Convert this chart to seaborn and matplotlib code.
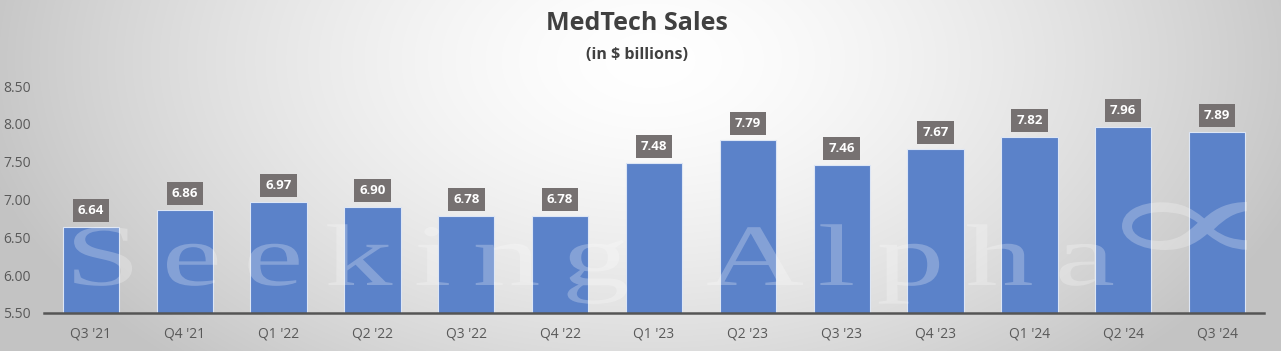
import numpy as np
import pandas as pd
import matplotlib
matplotlib.use('Agg')
import matplotlib.pyplot as plt
import seaborn as sns
from matplotlib.textpath import TextPath, text_to_path
from matplotlib.patches import PathPatch
from matplotlib.font_manager import FontProperties
from matplotlib.transforms import Affine2D

# Data
quarters = ["Q3 '21", "Q4 '21", "Q1 '22", "Q2 '22", "Q3 '22", "Q4 '22", "Q1 '23",
            "Q2 '23", "Q3 '23", "Q4 '23", "Q1 '24", "Q2 '24", "Q3 '24"]
sales = [6.64, 6.86, 6.97, 6.90, 6.78, 6.78, 7.48, 7.79, 7.46, 7.67, 7.82, 7.96, 7.89]
yticks = [5.50, 6.00, 6.50, 7.00, 7.50, 8.00, 8.50]

df = pd.DataFrame({'quarter': quarters, 'sales': sales})

sns.set_style('white')
plt.rcParams['font.family'] = ['Open Sans', 'DejaVu Sans']

W, H = 1281, 351
fig = plt.figure(figsize=(W / 100, H / 100), dpi=100)

# background gradient (light centre near top, grey edges)
bg = fig.add_axes([0, 0, 1, 1], zorder=0)
xx, yy = np.meshgrid(np.arange(W), np.arange(H))
d = np.sqrt(((xx - 650) / 690.0) ** 2 + ((yy - 60) / 420.0) ** 2)
g = 255 - 60 * np.clip(d, 0, 1) ** 1.5
img = np.dstack([g, g, g]).astype(np.uint8)
bg.imshow(img, extent=[0, W, H, 0], aspect='auto')
bg.set_xlim(0, W)
bg.set_ylim(H, 0)
bg.axis('off')

ax = fig.add_axes([44 / W, 1 - 313 / H, (1264 - 44) / W, (313 - 86) / H], zorder=1)
ax.patch.set_alpha(0)

sns.barplot(data=df, x='quarter', y='sales', color='#5B82C9', width=0.6,
            edgecolor='#dde6f5', linewidth=0.8, saturation=1, ax=ax)

ax.set_ylim(5.5, 8.5)
ax.set_xlim(-0.5, len(quarters) - 0.5)
ax.set_yticks(yticks)
ax.set_yticklabels(['{:.2f}'.format(v) for v in yticks])
ax.set_xlabel('')
ax.set_ylabel('')
ax.tick_params(axis='both', length=0, labelsize=10, labelcolor='#595959')
ax.tick_params(axis='x', pad=10)
ax.tick_params(axis='y', pad=29.5)
for lab in ax.get_yticklabels():
    lab.set_horizontalalignment('left')
for s in ['top', 'right', 'left']:
    ax.spines[s].set_visible(False)
ax.spines['bottom'].set_color('#555555')
ax.spines['bottom'].set_linewidth(1.8)

# value labels
for i, v in enumerate(sales):
    ax.annotate('{:.2f}'.format(v), (i, v), xytext=(0, 12), textcoords='offset points',
                ha='center', va='center', fontsize=9.5, fontweight='bold', color='white',
                bbox=dict(boxstyle='square,pad=0.38', fc='#767171', ec='none'),
                zorder=5, clip_on=False)

# titles
fig.text(637 / W, 1 - 24 / H, 'MedTech Sales', ha='center', va='center',
         fontsize=18, fontweight='bold', color='#404040')
fig.text(637 / W, 1 - 55 / H, '(in $ billions)', ha='center', va='center',
         fontsize=11.5, fontweight='bold', color='#404040')

# watermark
ov = fig.add_axes([0, 0, 1, 1], zorder=3)
ov.set_xlim(0, W)
ov.set_ylim(H, 0)
ov.axis('off')
ov.patch.set_alpha(0)
fp = FontProperties(family='Liberation Serif')
word = 'Seeking Alpha'
cap = TextPath((0, 0), 'S', size=1, prop=fp).get_extents().y1
s = (285 - 227) / cap
stretch = 1.55
full_w = text_to_path.get_text_width_height_descent(word, fp, ismath=False)[0] / fp.get_size_in_points()
extra = (1115 - 65 - stretch * s * full_w) / (len(word) - 1)
for i, ch in enumerate(word):
    if ch == ' ':
        continue
    x0 = text_to_path.get_text_width_height_descent(word[:i], fp, ismath=False)[0] / fp.get_size_in_points() if i else 0
    tp = TextPath((0, 0), ch, size=1, prop=fp)
    tr = Affine2D().scale(stretch * s, -s).translate(65 + stretch * s * x0 + i * extra, 285)
    ov.add_patch(PathPatch(tr.transform_path(tp), fc='white', ec='none', alpha=0.25))
ap = TextPath((0, 0), '\u221d', size=1, prop=FontProperties(family='DejaVu Serif'))
ae = ap.get_extents()
tr2 = Affine2D().translate(-ae.x0, -ae.y0).scale((1247 - 1122) / ae.width,
                                                   -(250 - 202) / ae.height).translate(1122, 250)
ov.add_patch(PathPatch(tr2.transform_path(ap), fc='white', ec='none', alpha=0.25))

fig.savefig('out.png', dpi=100)
